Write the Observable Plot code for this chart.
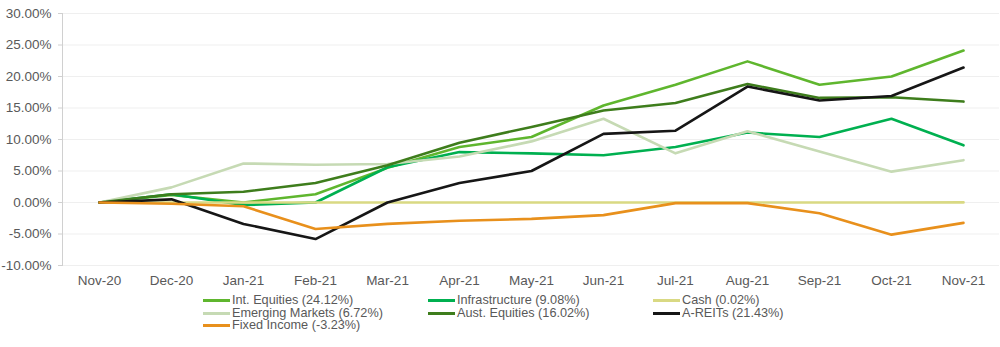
<!DOCTYPE html>
<html>
<head>
<meta charset="utf-8">
<script src="https://cdn.jsdelivr.net/npm/d3@7"></script>
<script src="https://cdn.jsdelivr.net/npm/@observablehq/plot@0.6"></script>
<style>
  html, body { margin: 0; padding: 0; background: #fff; }
  body { width: 1000px; height: 347px; overflow: hidden; font-family: "Liberation Sans", Arial, sans-serif; }
  #legend { position: relative; height: 57px; font-size: 12.7px; color: #595959; }
  .item { position: absolute; display: flex; align-items: center; white-space: nowrap; line-height: 13px; }
  .sw { display: inline-block; width: 27px; height: 3px; margin-right: 2px; }
</style>
</head>
<body>
<div id="chart"></div>
<div id="legend"></div>
<script>
const months = ["Nov-20","Dec-20","Jan-21","Feb-21","Mar-21","Apr-21","May-21","Jun-21","Jul-21","Aug-21","Sep-21","Oct-21","Nov-21"];

const intEquities   = [0, 1.2, 0.0, 1.3, 5.5, 8.8, 10.4, 15.4, 18.7, 22.4, 18.7, 20.0, 24.12];
const infrastructure= [0, 1.3, -0.4, 0.0, 5.6, 8.0, 7.8, 7.5, 8.8, 11.1, 10.4, 13.3, 9.08];
const cash          = [0, 0.0, 0.0, 0.0, 0.0, 0.0, 0.0, 0.0, 0.0, 0.0, 0.0, 0.01, 0.02];
const emerging      = [0, 2.4, 6.2, 6.0, 6.1, 7.3, 9.7, 13.3, 7.8, 11.3, 8.1, 4.9, 6.72];
const austEquities  = [0, 1.3, 1.7, 3.1, 5.9, 9.5, 12.0, 14.6, 15.8, 18.8, 16.6, 16.7, 16.02];
const aReits        = [0, 0.5, -3.4, -5.8, 0.0, 3.1, 5.0, 10.9, 11.4, 18.4, 16.2, 16.9, 21.43];
const fixedIncome   = [0, -0.2, -0.6, -4.2, -3.4, -2.9, -2.6, -2.0, -0.1, -0.1, -1.7, -5.1, -3.23];

const seriesNames = ["Int. Equities (24.12%)","Infrastructure (9.08%)","Cash (0.02%)","Emerging Markets (6.72%)","Aust. Equities (16.02%)","A-REITs (21.43%)","Fixed Income (-3.23%)"];
const seriesValues = [intEquities, infrastructure, cash, emerging, austEquities, aReits, fixedIncome];
const seriesColors = ["#5fb62e","#00b050","#d9d983","#c6dab4","#3e7d1c","#161616","#e8901c"];
const yTicks = [-10, -5, 0, 5, 10, 15, 20, 25, 30];

const rows = [];
seriesNames.forEach((name, si) => {
  seriesValues[si].forEach((v, i) => rows.push({series: name, month: months[i], value: v}));
});

const chart = Plot.plot({
  width: 1000,
  height: 290,
  marginTop: 13,
  marginBottom: 25,
  marginLeft: 62,
  marginRight: 1,
  style: {fontFamily: "'Liberation Sans', Arial, sans-serif", fontSize: "13.5px", background: "#fff"},
  x: {type: "point", domain: months, padding: 0.5},
  y: {domain: [-10, 30]},
  color: {domain: seriesNames, range: seriesColors},
  marks: [
    Plot.gridY(yTicks, {stroke: "#efefef", strokeOpacity: 1}),
    Plot.axisY(yTicks, {tickSize: 4, tickPadding: 7, stroke: "#d0d0d0", fill: "#595959", tickFormat: d => d.toFixed(2) + "%", label: null}),
    Plot.frame({anchor: "left", stroke: "#d0d0d0"}),
    Plot.axisX({tickSize: 0, tickPadding: 10, fill: "#595959", label: null}),
    Plot.line(rows, {x: "month", y: "value", z: "series", stroke: "series", strokeWidth: 2.6, strokeLinejoin: "round", curve: "linear"})
  ]
});
document.getElementById("chart").appendChild(chart);

const legend = document.getElementById("legend");
const colX = [203, 428, 653];
seriesNames.forEach((name, i) => {
  const col = i % 3, row = Math.floor(i / 3);
  const d = document.createElement("div");
  d.className = "item";
  d.style.left = colX[col] + "px";
  d.style.top = (4 + row * 12.7) + "px";
  const sw = document.createElement("span");
  sw.className = "sw";
  sw.style.background = seriesColors[i];
  const t = document.createElement("span");
  t.textContent = name;
  d.appendChild(sw); d.appendChild(t);
  legend.appendChild(d);
});
</script>
</body>
</html>
